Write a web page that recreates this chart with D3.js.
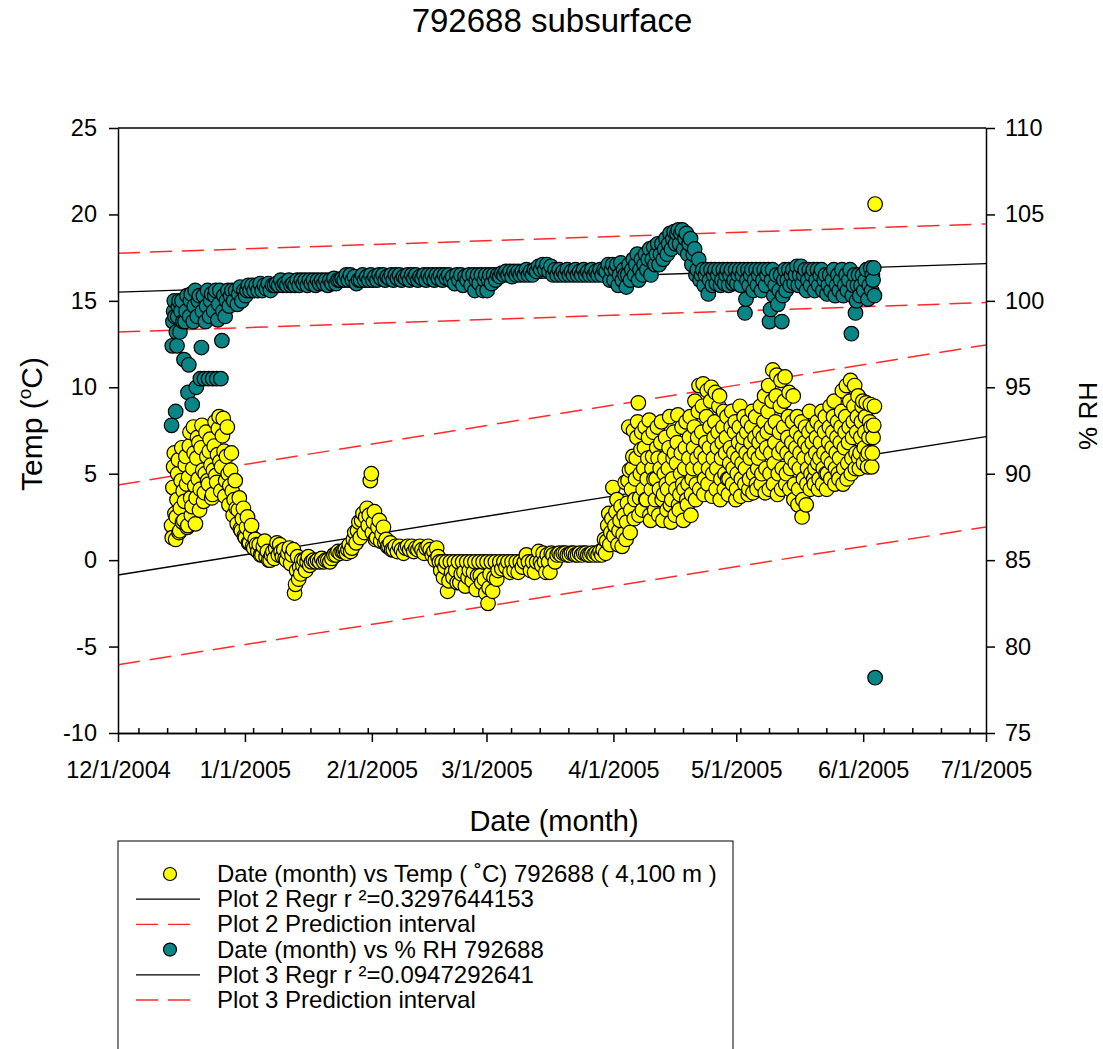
<!DOCTYPE html>
<html>
<head>
<meta charset="utf-8">
<script src="https://cdn.jsdelivr.net/npm/d3@7/dist/d3.min.js"></script>
<style>
  body { margin: 0; background: #fff; }
  svg { font-family: Arial, "Liberation Sans", sans-serif; }
</style>
</head>
<body>
<script>
// readings per day (Temp, deg C)
const tempDec = [ // from 12/14/2004
  [2.0, 1.3, 4.2, 5.4, 6.2, 2.7], [1.2, 2.5, 3.5, 5.0, 5.8, 1.6], [1.7, 3.0, 4.6, 6.5, 2.2, 4.0],
  [2.3, 3.4, 5.5, 6.0, 4.4, 1.9], [2.0, 4.8, 6.6, 7.4, 3.6, 2.6], [3.1, 5.3, 7.7, 6.2, 4.3, 2.1],
  [3.6, 5.9, 7.1, 4.7, 6.8, 2.9], [4.1, 6.5, 7.8, 5.2, 3.4], [3.9, 5.0, 7.4, 6.0, 4.6],
  [4.4, 6.3, 7.0, 5.5, 3.6], [3.8, 5.2, 6.6, 8.0, 4.9], [4.5, 6.1, 7.6, 8.3, 5.7],
  [4.0, 5.4, 7.2, 8.2, 6.3], [3.7, 4.6, 6.0, 7.7, 5.0], [3.2, 4.3, 5.2, 6.2, 4.0],
  [2.6, 3.5, 4.6, 3.0], [2.1, 2.9, 3.6, 1.8], [1.7, 2.4, 3.0, 1.4]
];
const tempJan = [
  [1.3, 1.9, 2.5, 1.0], [1.0, 1.5, 2.0, 0.8], [0.7, 1.2, 0.9], [0.5, 0.9, 0.3], [0.3, 0.8, 1.1],
  [0.2, 0.5, 0.0], [0.0, 0.3, 0.5], [0.1, 0.7, 1.0], [0.3, 0.9, 0.5], [0.2, 0.6, 0.1],
  [0.0, 0.4, 0.7], [-0.2, 0.3, 0.6], [-1.9, -1.4, -0.6, 0.2], [-1.1, -0.4, -0.8, 0.0], [-0.3, 0.0, -0.6],
  [-0.1, 0.2, -0.3], [-0.1, 0.0], [-0.1, 0.0], [-0.1, 0.1], [-0.1, 0.0],
  [0.0, -0.1], [0.1, 0.3], [0.3, 0.5], [0.4, 0.5], [0.5, 0.6, 0.4],
  [0.6, 0.9, 0.5], [0.7, 1.2, 1.6], [1.0, 1.7, 2.2], [1.3, 2.3, 2.7], [1.6, 2.5, 3.0],
  [2.0, 2.6, 4.6, 5.0]
];
const tempFeb = [
  [1.6, 2.2, 2.8, 1.2], [1.3, 1.9, 2.3], [1.1, 1.5, 1.9], [1.0, 1.2, 0.8], [0.8, 1.0, 0.6],
  [0.6, 0.8], [0.5, 0.8], [0.6, 0.4], [0.7, 0.8], [0.6, 0.8],
  [0.5, 0.7], [0.6, 0.8], [0.6, 0.4], [0.7, 0.8], [0.6, 0.3],
  [0.5, 0.0, 0.7], [0.2, -0.1, -0.6], [-0.1, -1.0, -0.4], [-0.1, -1.8, -1.2], [-0.1, -0.7, -1.0],
  [-0.1, -0.6, -1.3], [-0.1, -1.3, -0.8], [-0.1, -0.7, -1.5], [-0.1, -1.0, -0.6], [-0.1, -1.2, -0.7],
  [-0.1, -1.7, -0.9], [-0.1, -0.9, -1.3], [-0.1, -1.1, -1.9]
];
const tempMar = [
  [-0.1, -2.5, -1.6, -0.8], [-0.1, -1.8, -1.0], [-0.1, -1.1, -0.6], [-0.1, -0.5], [-0.1, -0.4],
  [-0.1, -0.7], [-0.1, -0.6], [-0.1, -0.7], [-0.1, -0.4], [-0.1, 0.3],
  [-0.1, -0.6], [-0.1, -0.7], [-0.1, 0.5], [-0.1, -0.3, 0.4], [-0.1, -0.7, 0.3],
  [-0.1, -0.7, 0.4], [0.3, -0.1], [0.3, 0.4], [0.3, 0.4], [0.4, 0.3],
  [0.3, 0.4], [0.4, 0.3], [0.3, 0.4], [0.3, 0.4], [0.4, 0.3],
  [0.3, 0.4], [0.3, 0.4], [0.3, 0.5], [0.3, 0.6, 1.2], [0.4, 1.1, 2.0, 2.7],
  [0.9, 1.6, 2.4, 4.2]
];
const tempApr = [
  [1.4, 2.0, 2.8, 3.5], [0.9, 1.7, 2.3, 3.1], [0.8, 1.5, 2.6, 4.5],
  [1.2, 2.2, 3.3, 4.6, 7.7, 5.2], [1.6, 2.9, 4.1, 5.3, 6.0, 7.5], [2.4, 3.5, 4.7, 5.9, 7.1, 8.0],
  [9.1, 2.6, 3.6, 5.0, 6.4, 7.4], [2.9, 4.1, 5.3, 6.5, 7.7, 3.5], [3.5, 4.7, 5.9, 7.1, 8.1, 2.6],
  [2.3, 4.1, 5.3, 6.0, 7.4, 4.7], [2.9, 3.5, 4.7, 6.5, 7.7, 5.9], [2.6, 4.1, 5.3, 6.8, 8.0, 3.5],
  [2.3, 3.8, 5.0, 5.9, 7.1, 4.4], [2.9, 4.1, 5.3, 6.5, 8.3, 3.2], [2.2, 3.5, 4.7, 5.9, 7.4, 6.2],
  [2.6, 4.1, 5.6, 6.8, 8.4, 3.2], [2.9, 3.8, 5.0, 6.2, 7.7, 4.4], [2.3, 4.1, 5.3, 6.5, 8.0, 3.5],
  [3.2, 4.4, 5.9, 7.1, 8.3, 2.6], [3.8, 4.7, 5.3, 6.5, 7.7, 9.2], [3.5, 4.4, 5.9, 7.1, 8.6, 10.1],
  [4.1, 5.3, 6.2, 7.4, 8.9, 10.2], [3.8, 4.7, 5.9, 6.8, 8.3, 9.8], [4.4, 5.3, 6.5, 7.7, 9.2, 10.0],
  [3.7, 5.0, 5.9, 7.1, 8.0, 9.7], [4.1, 5.3, 6.5, 7.4, 8.9, 9.5], [3.5, 4.7, 5.9, 6.8, 7.7, 8.6],
  [4.1, 5.0, 6.2, 7.1, 8.3, 4.7], [3.8, 4.7, 5.6, 6.5, 7.7, 8.6], [4.4, 5.3, 6.2, 7.4, 8.0, 3.5]
];
const tempMay = [
  [4.1, 5.0, 5.9, 6.8, 7.7, 8.9], [3.7, 4.7, 5.6, 6.5, 7.1, 8.3], [4.4, 5.3, 6.2, 7.4, 8.0, 3.8],
  [4.1, 4.7, 5.9, 6.8, 7.7, 8.6], [3.9, 5.0, 6.2, 7.1, 8.3, 4.4], [4.1, 5.3, 5.9, 6.8, 7.4, 8.9],
  [4.4, 5.0, 6.2, 7.1, 8.0, 9.5], [3.9, 5.3, 6.5, 7.4, 8.6, 10.1], [4.1, 5.0, 6.2, 7.7, 9.2, 11.0],
  [4.4, 5.6, 6.8, 8.0, 9.5, 10.7], [3.8, 5.0, 6.2, 7.4, 8.9, 10.4], [4.1, 5.3, 6.5, 7.7, 9.2, 10.6],
  [4.4, 5.0, 6.2, 7.1, 8.3, 9.7], [4.1, 5.3, 5.9, 6.8, 8.0, 9.5], [3.5, 4.4, 5.6, 6.5, 7.4, 8.3],
  [3.2, 4.1, 5.3, 6.2, 7.1, 8.0], [2.5, 3.5, 4.7, 5.9, 6.8, 7.7], [3.2, 4.4, 5.3, 6.5, 7.4, 8.6],
  [4.1, 5.0, 5.9, 6.8, 7.7, 4.7], [4.4, 5.3, 6.2, 7.1, 8.0, 5.6], [4.1, 4.7, 5.9, 6.8, 7.7, 8.6],
  [4.4, 5.3, 6.2, 7.4, 8.3, 5.0], [4.1, 5.0, 5.9, 6.8, 7.7, 8.9], [4.7, 5.6, 6.5, 7.4, 8.3, 9.2],
  [4.4, 5.3, 6.2, 7.1, 8.0, 5.0], [4.7, 5.9, 6.8, 7.7, 8.6, 9.8], [4.4, 5.3, 6.5, 7.4, 8.3, 10.1],
  [4.7, 5.6, 6.8, 7.7, 9.2, 10.4], [5.0, 5.9, 7.1, 8.0, 8.9, 10.1], [5.3, 6.2, 7.4, 8.3, 9.5, 5.9],
  [5.3, 6.2, 7.1, 8.0, 8.9, 9.2]
];
const tempJun = [
  [5.6, 6.5, 7.4, 8.3, 9.1, 6.0], [5.4, 6.2, 7.1, 8.0, 9.0, 7.7], [5.4, 6.2, 7.1, 7.8, 8.9, 20.6]
];

// readings per day (% RH)
const rhDec = [ // from 12/14/2004
  [92.8, 97.4, 98.8, 99.4, 100.0, 99.1], [93.6, 98.2, 97.4, 99.1, 99.7, 100.0], [98.2, 99.4, 100.0, 98.8],
  [96.6, 98.8, 99.4, 100.3], [94.7, 96.3, 99.1, 100.0, 100.4], [94.0, 98.8, 99.7, 100.6],
  [95.0, 99.1, 100.0, 100.3], [95.5, 97.3, 99.4, 100.3], [95.5, 98.8, 99.7, 100.6],
  [95.5, 99.1, 100.0, 100.4], [95.5, 99.4, 100.3, 100.6], [95.5, 98.9, 99.8, 100.6],
  [95.5, 97.7, 99.4, 100.3], [99.1, 100.0, 100.6], [99.7, 100.3, 100.6],
  [100.0, 100.6], [99.8, 100.4, 100.8], [100.0, 100.6]
];
const rhJan = [
  [100.3, 100.6, 100.9], [100.6, 100.9], [100.6, 100.9], [100.6, 101.0], [100.6, 100.9],
  [100.7, 101.0], [100.6, 100.9], [100.9, 101.0], [100.9, 101.2], [100.9, 101.0],
  [100.9, 101.2], [100.9, 101.0], [100.9, 101.2], [100.9, 101.2], [101.0, 101.2],
  [100.9, 101.2], [101.0, 101.2], [100.9, 101.2], [101.0, 101.2], [101.0, 101.2],
  [100.9, 101.2], [101.0, 101.3], [101.0, 101.2], [101.2, 101.3], [101.2, 101.5],
  [101.2, 101.5], [101.2, 101.4], [101.0, 101.2], [101.2, 101.5], [101.2, 101.4],
  [101.2, 101.5]
];
const rhFeb = [
  [101.2, 101.4], [101.2, 101.5], [101.3, 101.5], [101.2, 101.4], [101.3, 101.5],
  [101.2, 101.5], [101.3, 101.5], [101.2, 101.4], [101.3, 101.5], [101.2, 101.5],
  [101.3, 101.5], [101.2, 101.4], [101.3, 101.5], [101.2, 101.5], [101.3, 101.5],
  [101.2, 101.5], [101.3, 101.5], [101.2, 101.5], [101.3, 101.5], [101.2, 101.4],
  [101.0, 101.5], [101.2, 101.5], [100.9, 101.4], [101.2, 101.5], [100.9, 101.5],
  [100.6, 101.2, 101.5], [101.0, 101.5], [100.6, 101.2, 101.5]
];
const rhMar = [
  [100.6, 101.2, 101.5], [101.0, 101.5], [101.2, 101.5], [101.4, 101.6], [101.5, 101.7],
  [101.5, 101.7], [101.4, 101.7], [101.5, 101.7], [101.5, 101.7], [101.5, 101.8],
  [101.5, 101.7], [101.5, 101.8], [101.7, 102.0], [101.8, 102.1], [101.8, 102.1],
  [101.7, 102.0], [101.5, 101.8], [101.5, 101.8], [101.5, 101.7], [101.5, 101.8],
  [101.5, 101.7], [101.5, 101.8], [101.5, 101.7], [101.5, 101.8], [101.5, 101.7],
  [101.5, 101.8], [101.5, 101.7], [101.5, 101.8], [101.5, 101.8], [101.7, 102.1],
  [101.2, 101.8, 102.1]
];
const rhApr = [
  [101.2, 101.8, 102.1], [100.9, 101.5, 102.2], [101.2, 101.8, 101.5], [100.8, 101.5, 102.1], [101.2, 101.8, 102.4],
  [101.5, 102.1, 102.7], [101.2, 101.8, 102.4], [101.5, 102.1, 102.7], [101.8, 102.4, 103.0], [101.5, 102.4, 103.1],
  [102.1, 102.7, 103.3], [102.1, 102.7, 103.3], [102.4, 103.0, 103.6], [102.7, 103.3, 103.9], [103.0, 103.6, 104.0],
  [103.3, 103.9, 104.1], [103.3, 103.9, 104.1], [103.0, 103.6, 103.9], [102.7, 103.3, 103.6], [102.1, 102.7, 103.0],
  [101.5, 101.8, 102.4], [101.2, 101.5, 101.8], [100.9, 101.5, 101.8], [100.4, 101.2, 101.8], [100.9, 101.5, 101.8],
  [101.0, 101.5, 101.8], [100.9, 101.2, 101.8], [101.0, 101.5, 101.8], [100.9, 101.5, 101.8], [101.0, 101.2, 101.8]
];
const rhMay = [
  [101.0, 101.5, 101.8], [100.9, 101.5, 101.8], [99.3, 100.1, 101.2, 101.8], [100.9, 101.5, 101.8], [100.6, 101.2, 101.8],
  [100.9, 101.5, 101.8], [100.6, 101.2, 101.8], [100.9, 101.5, 101.8], [98.8, 99.5, 101.2, 101.8], [100.3, 100.9, 101.5],
  [99.8, 100.6, 101.5], [98.8, 100.3, 101.2, 101.8], [100.6, 101.2, 101.8], [100.9, 101.5, 101.8], [101.0, 101.5, 102.0],
  [100.9, 101.5, 102.0], [101.0, 101.5, 101.8], [100.6, 101.2, 101.8], [100.9, 101.5, 101.8], [100.6, 101.2, 101.8],
  [100.9, 101.5, 101.8], [100.6, 101.2, 101.5], [100.4, 100.9, 101.5], [100.6, 101.2, 101.8], [100.3, 100.9, 101.5],
  [100.6, 101.2, 101.8], [100.3, 100.9, 101.5], [100.6, 101.2, 101.8], [98.1, 100.3, 100.9, 101.5], [99.3, 100.0, 100.9, 101.5],
  [100.3, 100.9, 101.5]
];
const rhJun = [
  [100.6, 101.2, 101.8], [100.1, 100.9, 101.9], [100.6, 101.5, 101.2, 101.9, 100.3, 78.2]
];

// fitted lines, value at the start and end of the x axis
const tempRegr = [-0.86, 7.15];
const tempPIUpper = [4.35, 12.45];
const tempPILower = [-6.05, 1.92];
const rhRegr = [100.5, 102.15];
const rhPIUpper = [102.76, 104.45];
const rhPILower = [98.2, 99.9];

// axes
const xDomain = [new Date(2004, 11, 1), new Date(2005, 6, 1)];
const tempTicks = [-10, -5, 0, 5, 10, 15, 20, 25];
const rhTicks = [75, 80, 85, 90, 95, 100, 105, 110];

const legendLabels = [
  "Date (month) vs Temp ( \u02DAC) 792688 ( 4,100 m )",
  "Plot 2 Regr r \u00B2=0.3297644153",
  "Plot 2 Prediction interval",
  "Date (month) vs % RH 792688",
  "Plot 3 Regr r \u00B2=0.0947292641",
  "Plot 3 Prediction interval"
];

var yellow = "#ffff00", teal = "#0a8585", red = "#ff2a2a";

var svg = d3.select("body").append("svg")
  .attr("width", 1103)
  .attr("height", 1049);

// plot box (note: "top" is taken by window.top)
var pLeft = 118, pRight = 986, pTop = 128, pBottom = 733;

var x = d3.scaleTime().domain(xDomain).range([pLeft, pRight]);
var yT = d3.scaleLinear().domain([-10, 25]).range([pBottom, pTop]);
var yR = d3.scaleLinear().domain([75, 110]).range([pBottom, pTop]);

// turn per-day readings into timed points, spread over each day
function expand(blocks) {
  var pts = [];
  blocks.forEach(function(b) {
    b[3].forEach(function(day, k) {
      var t0 = +new Date(b[0], b[1], b[2] + k);
      day.forEach(function(v, i) {
        pts.push({date: new Date(t0 + 864e5 * (i + 0.5) / day.length), value: v});
      });
    });
  });
  return pts;
}

var tempPts = expand([[2004, 11, 14, tempDec], [2005, 0, 1, tempJan], [2005, 1, 1, tempFeb],
  [2005, 2, 1, tempMar], [2005, 3, 1, tempApr], [2005, 4, 1, tempMay], [2005, 5, 1, tempJun]]);
var rhPts = expand([[2004, 11, 14, rhDec], [2005, 0, 1, rhJan], [2005, 1, 1, rhFeb],
  [2005, 2, 1, rhMar], [2005, 3, 1, rhApr], [2005, 4, 1, rhMay], [2005, 5, 1, rhJun]]);

// title
svg.append("text")
  .attr("x", 552).attr("y", 32)
  .attr("text-anchor", "middle")
  .style("font-size", "33px")
  .text("792688 subsurface");

// fitted lines and prediction intervals
function fitLine(vals, yScale, dashed) {
  svg.append("line")
    .attr("x1", x(xDomain[0])).attr("y1", yScale(vals[0]))
    .attr("x2", x(xDomain[1])).attr("y2", yScale(vals[1]))
    .attr("stroke", dashed ? red : "#000")
    .attr("stroke-width", dashed ? 1.5 : 1.3)
    .attr("stroke-dasharray", dashed ? "22,10" : null);
}
fitLine(tempRegr, yT, false);
fitLine(tempPIUpper, yT, true);
fitLine(tempPILower, yT, true);
fitLine(rhRegr, yR, false);
fitLine(rhPIUpper, yR, true);
fitLine(rhPILower, yR, true);

// scatter points
svg.append("g").selectAll("circle")
  .data(tempPts).enter().append("circle")
  .attr("cx", function(d) { return x(d.date); })
  .attr("cy", function(d) { return yT(d.value); })
  .attr("r", 7.3)
  .attr("fill", yellow)
  .attr("stroke", "#000")
  .attr("stroke-width", 1.2);

svg.append("g").selectAll("circle")
  .data(rhPts).enter().append("circle")
  .attr("cx", function(d) { return x(d.date); })
  .attr("cy", function(d) { return yR(d.value); })
  .attr("r", 7.3)
  .attr("fill", teal)
  .attr("stroke", "#000")
  .attr("stroke-width", 1.2);

// frame top
svg.append("line")
  .attr("x1", pLeft).attr("x2", pRight).attr("y1", pTop).attr("y2", pTop)
  .attr("stroke", "#000").attr("stroke-width", 1.5);

function styleAxis(g) {
  g.selectAll("path, line").attr("stroke", "#000").attr("stroke-width", 1.5);
  g.selectAll("text")
    .attr("fill", "#000")
    .style("font-family", "Arial, 'Liberation Sans', sans-serif")
    .style("font-size", "23.5px");
}

// plain hyphen for negatives, like the original
var plain = function(d) { return String(d); };

// minor weekly ticks point into the plot
svg.append("g")
  .attr("transform", "translate(0," + pBottom + ")")
  .call(d3.axisBottom(x).ticks(d3.timeMonday).tickSize(-5).tickSizeOuter(0).tickFormat(""))
  .call(styleAxis);

svg.append("g")
  .attr("transform", "translate(0," + pBottom + ")")
  .call(d3.axisBottom(x).ticks(d3.timeMonth).tickSize(9).tickSizeOuter(0)
    .tickPadding(19).tickFormat(d3.timeFormat("%-m/%-d/%Y")))
  .call(styleAxis);

svg.append("g")
  .attr("transform", "translate(" + pLeft + ",0)")
  .call(d3.axisLeft(yT).tickValues(tempTicks).tickSize(9).tickSizeOuter(0).tickPadding(12).tickFormat(plain))
  .call(styleAxis);

svg.append("g")
  .attr("transform", "translate(" + pRight + ",0)")
  .call(d3.axisRight(yR).tickValues(rhTicks).tickSize(9).tickSizeOuter(0).tickPadding(10).tickFormat(plain))
  .call(styleAxis);

// axis titles
svg.append("text")
  .attr("x", 554).attr("y", 831)
  .attr("text-anchor", "middle")
  .style("font-size", "29px")
  .text("Date (month)");

var tl = svg.append("text")
  .attr("transform", "translate(42,424) rotate(-90)")
  .attr("text-anchor", "middle")
  .style("font-size", "30px");
tl.append("tspan").text("Temp (");
tl.append("tspan").attr("dy", -11).style("font-size", "19px").text("o");
tl.append("tspan").attr("dy", 11).text("C)");

svg.append("text")
  .attr("transform", "translate(1097,416) rotate(-90)")
  .attr("text-anchor", "middle")
  .style("font-size", "26px")
  .text("% RH");

// legend
var lg = svg.append("g");
lg.append("rect")
  .attr("x", 118).attr("y", 841)
  .attr("width", 615).attr("height", 300)
  .attr("fill", "none")
  .attr("stroke", "#000")
  .attr("stroke-width", 1);

var rowY = d3.scaleLinear().domain([0, 5]).range([874, 1000]);
legendLabels.forEach(function(label, i) {
  var y = rowY(i);
  if (i === 0 || i === 3) {
    lg.append("circle")
      .attr("cx", 170).attr("cy", y).attr("r", 6.5)
      .attr("fill", i === 0 ? yellow : teal)
      .attr("stroke", "#000").attr("stroke-width", 1.2);
  } else {
    lg.append("line")
      .attr("x1", 136).attr("x2", 200).attr("y1", y).attr("y2", y)
      .attr("stroke", i % 3 === 1 ? "#000" : red)
      .attr("stroke-width", 1.3)
      .attr("stroke-dasharray", i % 3 === 1 ? null : "22,10");
  }
  lg.append("text")
    .attr("x", 217).attr("y", y + 8)
    .style("font-size", "24px")
    .text(label);
});
</script>
</body>
</html>
